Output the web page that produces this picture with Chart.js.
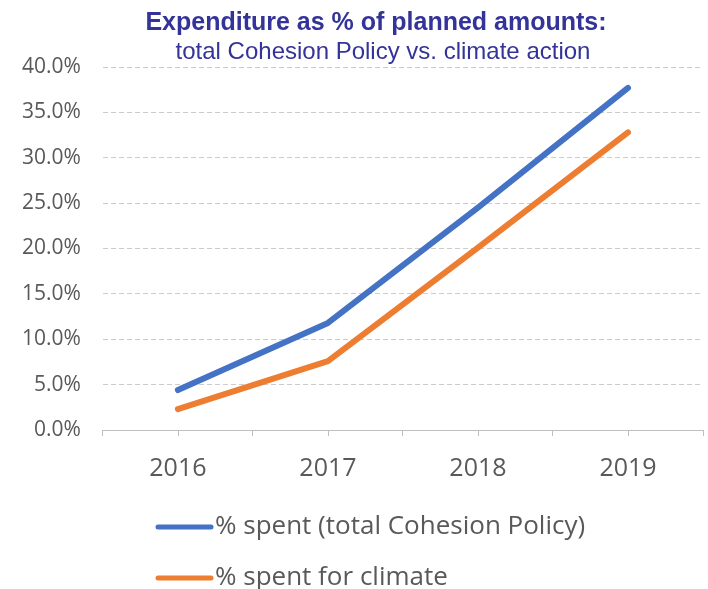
<!DOCTYPE html>
<html>
<head>
<meta charset="utf-8">
<script src="https://cdn.jsdelivr.net/npm/chart.js@4/dist/chart.umd.min.js"></script>
<style>
  body { margin: 0; background: #fff; }
  #wrap { width: 708px; height: 589px; }
</style>
</head>
<body>
<div id="wrap"><canvas id="expChart" width="708" height="589"></canvas></div>
<script>
const years = ['2016', '2017', '2018', '2019'];
const spentTotal = [4.4, 11.8, 24.5, 37.7];
const spentClimate = [2.3, 7.6, 20.1, 32.8];
const seriesNames = ['% spent (total Cohesion Policy)', '% spent for climate'];
const seriesColors = ['#4472c4', '#ed7d31'];
const titleText = 'Expenditure as % of planned amounts:';
const subtitleText = 'total Cohesion Policy vs. climate action';

const grey = '#595959';

// title, subtitle, centre ticks and the stacked legend are drawn by hand
const decorations = {
  id: 'decorations',
  afterDraw(chart) {
    const ctx = chart.ctx;
    ctx.save();
    ctx.fillStyle = '#333399';
    ctx.textAlign = 'center';
    ctx.textBaseline = 'alphabetic';
    ctx.font = 'bold 25px "Liberation Sans", Arial, sans-serif';
    ctx.fillText(titleText, 376, 30);
    ctx.font = '24px "Liberation Sans", Arial, sans-serif';
    ctx.fillText(subtitleText, 383, 59);

    // short tick under each category centre
    const x = chart.scales.x;
    ctx.strokeStyle = '#bfbfbf';
    ctx.lineWidth = 1;
    years.forEach((_, i) => {
      const px = Math.round(x.getPixelForTick(i)) + 0.5;
      ctx.beginPath();
      ctx.moveTo(px, x.top);
      ctx.lineTo(px, x.top + 6);
      ctx.stroke();
    });

    // legend, one entry per row
    ctx.textAlign = 'left';
    ctx.textBaseline = 'middle';
    ctx.font = '26px "Open Sans", sans-serif';
    chart.data.datasets.forEach((ds, i) => {
      const y = 527 + i * 51;
      ctx.strokeStyle = ds.borderColor;
      ctx.lineWidth = 5;
      ctx.lineCap = 'round';
      ctx.beginPath();
      ctx.moveTo(158, y);
      ctx.lineTo(211, y);
      ctx.stroke();
      ctx.fillStyle = grey;
      ctx.fillText(ds.label, 215, y);
    });
    ctx.restore();
  }
};

new Chart(document.getElementById('expChart'), {
  type: 'line',
  data: {
    labels: years,
    datasets: [
      {
        label: seriesNames[0],
        data: spentTotal,
        borderColor: seriesColors[0],
        backgroundColor: seriesColors[0],
        borderWidth: 6,
        pointRadius: 0,
        tension: 0,
        borderCapStyle: 'round',
        borderJoinStyle: 'round'
      },
      {
        label: seriesNames[1],
        data: spentClimate,
        borderColor: seriesColors[1],
        backgroundColor: seriesColors[1],
        borderWidth: 6,
        pointRadius: 0,
        tension: 0,
        borderCapStyle: 'round',
        borderJoinStyle: 'round'
      }
    ]
  },
  options: {
    responsive: false,
    animation: false,
    layout: { padding: { top: 67, left: 0, right: 5, bottom: 87 } },
    plugins: {
      legend: { display: false },
      title: { display: false },
      tooltip: { enabled: false }
    },
    scales: {
      x: {
        offset: true,
        grid: { offset: true, drawOnChartArea: false, tickLength: 6, color: '#bfbfbf' },
        border: { color: '#bfbfbf' },
        ticks: { color: grey, font: { family: 'Open Sans', size: 25 }, padding: 18 }
      },
      y: {
        min: 0,
        max: 40,
        ticks: {
          stepSize: 5,
          color: grey,
          font: { family: 'Open Sans', size: 21 },
          padding: 22,
          callback: v => v.toFixed(1) + '%'
        },
        grid: {
          color: c => c.tick.value === 0 ? 'rgba(0,0,0,0)' : '#cccccc',
          drawTicks: false
        },
        border: { display: false, dash: [5, 3] }
      }
    }
  },
  plugins: [decorations]
});
</script>
</body>
</html>
